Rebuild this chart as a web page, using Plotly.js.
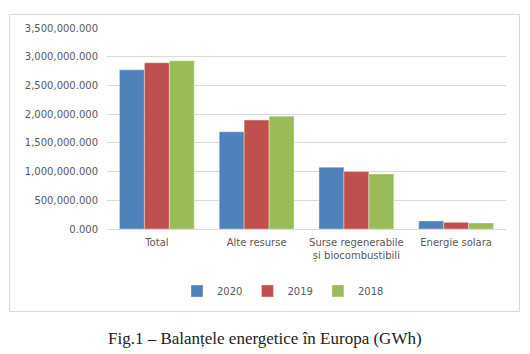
<!DOCTYPE html>
<html>
<head>
<meta charset="utf-8">
<script src="https://cdn.plot.ly/plotly-3.0.1.min.js"></script>
<style>
html,body{margin:0;padding:0;background:#fff;}
#chart{width:530px;height:354px;}
</style>
</head>
<body>
<div id="chart"></div>
<script>
const categories = ["Total", "Alte resurse", "Surse regenerabile<br>și biocombustibili", "Energie solara"];
const years = ["2020", "2019", "2018"];
const values2020 = [2773000, 1692000, 1076000, 140000];
const values2019 = [2895000, 1896000, 1000000, 116000];
const values2018 = [2930000, 1965000, 959000, 105000];
const colors = ["#4F81BD", "#C0504D", "#9BBB59"];
const yTicks = [0, 500000, 1000000, 1500000, 2000000, 2500000, 3000000, 3500000];
const captionText = "Fig.1 – Balanțele energetice în Europa (GWh)";

const series = [values2020, values2019, values2018];
const traces = series.map((vals, i) => ({
  type: "bar",
  name: years[i],
  x: categories,
  y: vals,
  marker: {color: colors[i], line: {color: "rgba(255,255,255,0.6)", width: 0.6}},
  hoverinfo: "x+y+name"
}));

const L = 107, R = 24, T = 28, B = 125;
const PW = 530 - L - R, PH = 354 - T - B;
const px = v => (v - L) / PW;
const py = v => (354 - B - v) / PH;

const layout = {
  width: 530, height: 354,
  margin: {l: L, r: R, t: T, b: B, pad: 0},
  paper_bgcolor: "#ffffff",
  plot_bgcolor: "#ffffff",
  font: {family: "DejaVu Sans, sans-serif", size: 10, color: "#595959"},
  barmode: "group",
  bargap: 0.25,
  bargroupgap: 0,
  showlegend: true,
  legend: {
    orientation: "h", x: px(177), xanchor: "left", y: py(291), yanchor: "middle",
    font: {family: "DejaVu Sans, sans-serif", size: 10, color: "#595959"},
    itemwidth: 30, tracegroupgap: 0
  },
  xaxis: {
    type: "category",
    showgrid: false, zeroline: false, showline: false,
    ticks: "", tickfont: {size: 10, color: "#595959"},
    ticklabelstandoff: 6
  },
  yaxis: {
    range: [0, 3500000],
    tickvals: yTicks,
    tickformat: ",.3f",
    showgrid: true, gridcolor: "#D9D9D9", gridwidth: 1,
    zeroline: true, zerolinecolor: "#D9D9D9", zerolinewidth: 1,
    showline: false, ticks: "",
    tickfont: {size: 10, color: "#595959"},
    ticklabelstandoff: 8
  },
  shapes: [{
    type: "rect", xref: "paper", yref: "paper",
    x0: px(9.5), x1: px(519.5), y0: py(311.5), y1: py(14.5),
    line: {color: "#D9D9D9", width: 1}, fillcolor: "rgba(0,0,0,0)", layer: "below"
  }],
  annotations: [{
    text: captionText, xref: "paper", yref: "paper",
    x: px(265), y: py(338), xanchor: "center", yanchor: "middle",
    showarrow: false,
    font: {family: "Liberation Serif, DejaVu Serif, serif", size: 17, color: "#222222"}
  }]
};

Plotly.newPlot("chart", traces, layout, {displayModeBar: false, staticPlot: true});
</script>
</body>
</html>
